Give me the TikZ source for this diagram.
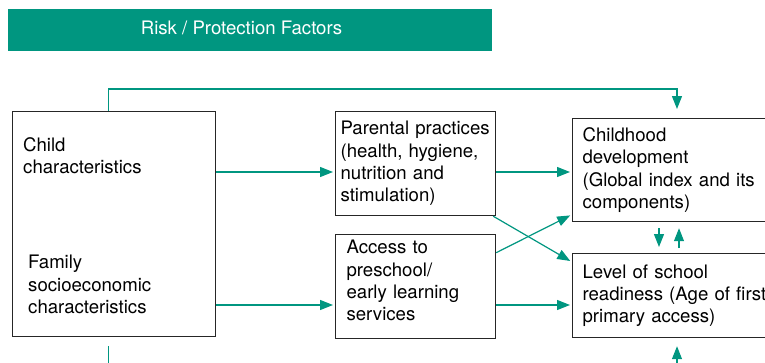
\documentclass[tikz,border=0pt]{standalone}
\usepackage{fontspec}
\setmainfont{TeX Gyre Heros}
\usetikzlibrary{arrows.meta}
\definecolor{riskgreen}{RGB}{0,150,128}
\tikzset{
  box/.style={draw=black!85, line width=1.2pt, anchor=north west, align=left, inner ysep=0pt},
  link/.style={draw=riskgreen, line width=1.2pt, shorten >=2pt, -{Triangle[length=13pt,width=10pt]}},
}
\newcommand{\drawlink}{\draw[link]}

\begin{document}
\begin{tikzpicture}[x=1pt, y=-1pt, font=\fontsize{18.6}{22.3}\selectfont]
\useasboundingbox (0,0) rectangle (765,362);
\clip (0,0) rectangle (765,362);
% header
\fill[riskgreen] (8,9) rectangle (492,51);
\node[text=white] (title) at (241.5,28) {Risk / Protection Factors};
% boxes
\node[box, minimum width=203, minimum height=225] (lbox) at (12,111) {};
\node[anchor=base west, align=left, inner sep=0pt] (child) at (23,173.5) {Child\\characteristics};
\node[anchor=base west, align=left, inner sep=0pt] (family) at (28,313.5) {Family\\socioeconomic\\characteristics};
\node[box, minimum width=160, minimum height=104, inner xsep=5pt, text width=150pt] (parent) at (335,111)
  {Parental practices\\(health, hygiene,\\nutrition and\\stimulation)};
\node[box, minimum width=160, minimum height=104, inner xsep=11pt, text width=138pt, text depth=79pt] (access) at (335,234)
  {Access to\\preschool/\\early learning\\services};
\node[box, minimum width=230, minimum height=103, inner xsep=10pt, text width=210pt] (dev) at (572,118)
  {Childhood\\development\\(Global index and its\\components)};
\node[box, minimum width=230, minimum height=84, inner xsep=10pt, text width=210pt] (ready) at (572,253)
  {Level of school\\readiness (Age of first\\primary access)};
% connectors
\drawlink ([xshift=-5.5pt]lbox.north) -- ++(0,-22) -| ([xshift=105pt, yshift=7pt]dev.north west);
\drawlink ([xshift=-5.5pt, yshift=-9pt]lbox.south) -- ++(0,40) -| ([xshift=105pt, yshift=-6pt]ready.south west);
\drawlink (lbox.east |- 0,172) -- (parent.west |- 0,172);
\drawlink (lbox.east |- 0,305) -- (access.west |- 0,305);
\drawlink (parent.east |- 0,172) -- (dev.west |- 0,172);
\drawlink (access.east |- 0,305) -- (ready.west |- 0,305);
\drawlink ([xshift=-3pt]parent.south east) -- ([yshift=-9pt]ready.north west);
\drawlink ([yshift=-18.7pt]access.north east) -- ([yshift=7.7pt]dev.south west);
\drawlink ([xshift=87pt, yshift=-6pt]dev.south west) -- ([xshift=87pt, yshift=4pt]ready.north west);
\drawlink ([xshift=107pt, yshift=5pt]ready.north west) -- ([xshift=107pt, yshift=-4pt]dev.south west);
\end{tikzpicture}
\end{document}
